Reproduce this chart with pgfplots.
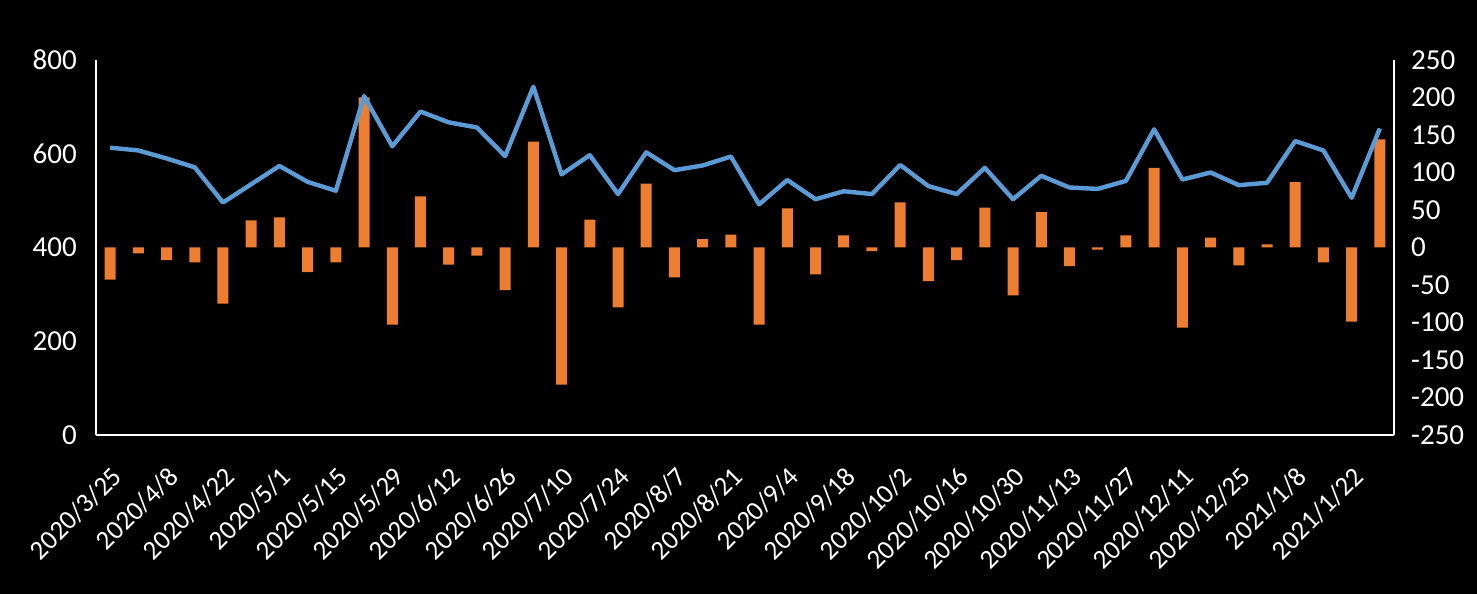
\documentclass[border=0pt]{standalone}
\usepackage{pgfplots}
\pgfplotsset{compat=1.18}
\usepackage{fontspec}
\setmainfont{Carlito}
\definecolor{xlblue}{HTML}{5B9BD5}
\definecolor{xlorange}{HTML}{ED7D31}
\begin{document}
\begin{tikzpicture}[x=1pt,y=1pt]
\fill[black] (-96,-159) rectangle (1381,435);
\useasboundingbox (-96,-159) rectangle (1381,435);
% bars on the right axis
\begin{axis}[
  at={(0,0)}, anchor=south west,
  scale only axis, width=1298pt, height=375pt,
  xmin=-0.5, xmax=45.5,
  ymin=-250, ymax=250,
  ytick={-250,-200,...,250},
  axis y line*=right, axis x line=none,
  axis line style={white, line width=1.5pt, -},
  major tick length=0pt,
  /pgf/number format/assume math mode=true,
  yticklabel style={text=white, font=\fontsize{29}{32}\selectfont, anchor=west, inner sep=0pt, xshift=17pt},
  clip=false,
]
\addplot[ybar, bar width=11pt, bar shift=0pt, fill=xlorange, draw=none] coordinates {
(0,-43) (1,-8) (2,-17) (3,-20) (4,-75) (5,36) (6,40) (7,-33) (8,-20) (9,200)
(10,-103) (11,68) (12,-23) (13,-11) (14,-57) (15,141) (16,-183) (17,37)
(18,-80) (19,85) (20,-40) (21,11) (22,17) (23,-103) (24,52) (25,-36) (26,16)
(27,-5) (28,60) (29,-45) (30,-17) (31,53) (32,-64) (33,47) (34,-25) (35,-3)
(36,16) (37,106) (38,-107) (39,13) (40,-24) (41,4) (42,87) (43,-20) (44,-99) (45,144)
};
\end{axis}
% line on the left axis
\begin{axis}[
  at={(0,0)}, anchor=south west,
  scale only axis, width=1298pt, height=375pt,
  xmin=-0.5, xmax=45.5,
  ymin=0, ymax=800,
  ytick={0,200,...,800},
  axis y line*=left, axis x line*=bottom,
  axis line style={white, line width=1.5pt, -},
  major tick length=0pt,
  /pgf/number format/assume math mode=true,
  yticklabel style={text=white, font=\fontsize{29}{32}\selectfont, anchor=east, inner sep=0pt, xshift=-19pt},
  xtick={0,2,...,44},
  xticklabels={2020/3/25,2020/4/8,2020/4/22,2020/5/1,2020/5/15,2020/5/29,2020/6/12,2020/6/26,2020/7/10,2020/7/24,2020/8/7,2020/8/21,2020/9/4,2020/9/18,2020/10/2,2020/10/16,2020/10/30,2020/11/13,2020/11/27,2020/12/11,2020/12/25,2021/1/8,2021/1/22},
  xticklabel style={xshift=0pt, yshift=-30pt, text=white, font=\fontsize{27}{30}\selectfont, rotate=45, anchor=north east, inner sep=0pt},
  clip=false,
]
\addplot[xlblue, line width=4.4pt, line join=round] coordinates {
(0,613) (1,607) (2,590) (3,571) (4,496) (5,535) (6,574) (7,540) (8,521) (9,723)
(10,616) (11,690) (12,667) (13,656) (14,595) (15,743) (16,556) (17,597)
(18,514) (19,603) (20,565) (21,575) (22,594) (23,492) (24,544) (25,503) (26,520)
(27,514) (28,576) (29,531) (30,514) (31,570) (32,503) (33,553) (34,528) (35,525)
(36,542) (37,652) (38,545) (39,560) (40,533) (41,538) (42,627) (43,607) (44,506) (45,654)
};
\end{axis}
\end{tikzpicture}
\end{document}
